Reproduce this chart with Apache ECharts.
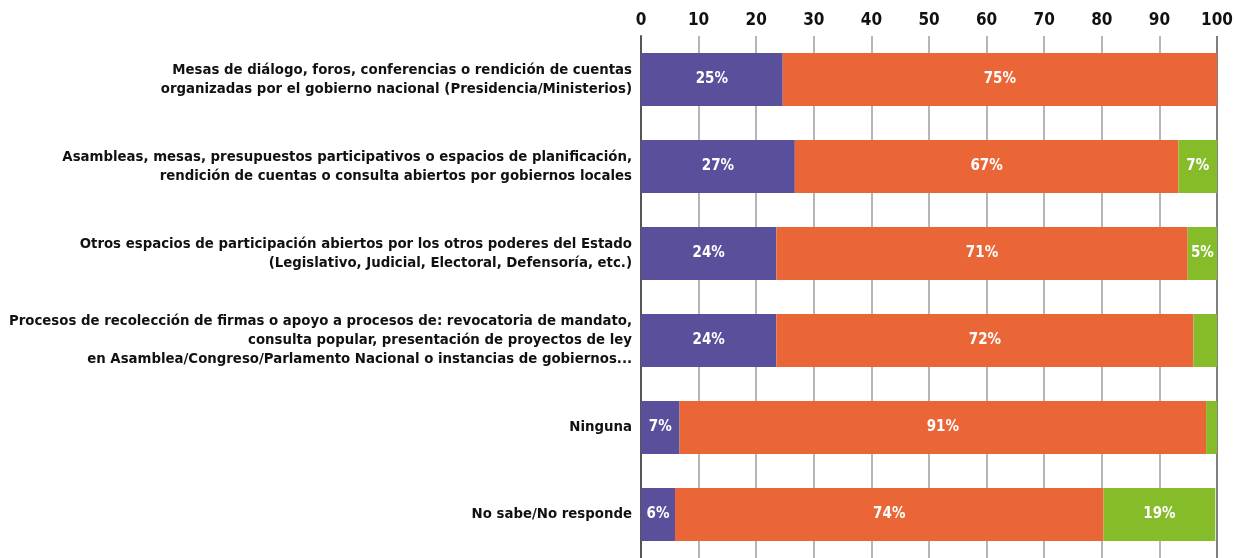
<!DOCTYPE html>
<html>
<head>
<meta charset="utf-8">
<script src="https://cdn.jsdelivr.net/npm/echarts@6/dist/echarts.min.js"></script>
<style>
  html, body { margin: 0; padding: 0; background: #fff; }
  #main { width: 1236px; height: 558px; }
</style>
</head>
<body>
<div id="main"></div>
<script>
var categorias = [
  'Mesas de diálogo, foros, conferencias o rendición de cuentas\norganizadas por el gobierno nacional (Presidencia/Ministerios)',
  'Asambleas, mesas, presupuestos participativos o espacios de planificación,\nrendición de cuentas o consulta abiertos por gobiernos locales',
  'Otros espacios de participación abiertos por los otros poderes del Estado\n(Legislativo, Judicial, Electoral, Defensoría, etc.)',
  'Procesos de recolección de firmas o apoyo a procesos de: revocatoria de mandato,\nconsulta popular, presentación de proyectos de ley\nen Asamblea/Congreso/Parlamento Nacional o instancias de gobiernos...',
  'Ninguna',
  'No sabe/No responde'
];
var serieMorada = [24.6, 26.7, 23.5, 23.5, 6.7, 5.9];
var serieNaranja = [75.4, 66.6, 71.4, 72.4, 91.4, 74.4];
var serieVerde = [0, 6.7, 5.1, 4.1, 1.9, 19.4];
var ticks = [0, 10, 20, 30, 40, 50, 60, 70, 80, 90, 100];

var fuente = '"Liberation Sans Narrow", "DejaVu Sans Condensed", sans-serif';
var myChart = echarts.init(document.getElementById('main'));

function etiqueta() {
  return {
    show: true,
    position: 'inside',
    color: '#fff',
    fontFamily: fuente,
    fontWeight: 'bold',
    fontSize: 15,
    formatter: function (p) {
      return p.value < 4.5 ? '' : Math.round(p.value) + '%';
    }
  };
}

function serie(nombre, datos, color) {
  return {
    name: nombre,
    type: 'bar',
    stack: 'total',
    barWidth: '61%',
    data: datos,
    itemStyle: { color: color },
    label: etiqueta(),
    silent: true
  };
}

var gris = [];
for (var i = 0; i < ticks.length; i++) {
  gris.push(i == 0 || i == ticks.length - 1 ? '#555' : '#9e9e9e');
}

var option = {
  animation: false,
  grid: { left: 641, right: 15, top: 36, height: 528, containLabel: false },
  xAxis: {
    type: 'value',
    position: 'top',
    min: 0,
    max: 100,
    interval: 10,
    axisLine: { show: false },
    axisTick: { show: false },
    axisLabel: {
      color: '#111',
      fontFamily: fuente,
      fontWeight: 'bold',
      fontSize: 17,
      margin: 7
    },
    splitLine: { show: true, lineStyle: { color: gris, width: 1.5 } }
  },
  yAxis: {
    type: 'category',
    inverse: true,
    data: categorias,
    axisLine: { show: true, lineStyle: { color: '#555', width: 2 } },
    axisTick: { show: false },
    axisLabel: {
      color: '#111',
      fontFamily: fuente,
      fontWeight: 'bold',
      fontSize: 14.8,
      lineHeight: 19,
      margin: 9,
      align: 'right'
    }
  },
  series: [
    serie('Morada', serieMorada, '#5a4f9b'),
    serie('Naranja', serieNaranja, '#eb6637'),
    serie('Verde', serieVerde, '#86bc29')
  ]
};
myChart.setOption(option);
</script>
</body>
</html>
